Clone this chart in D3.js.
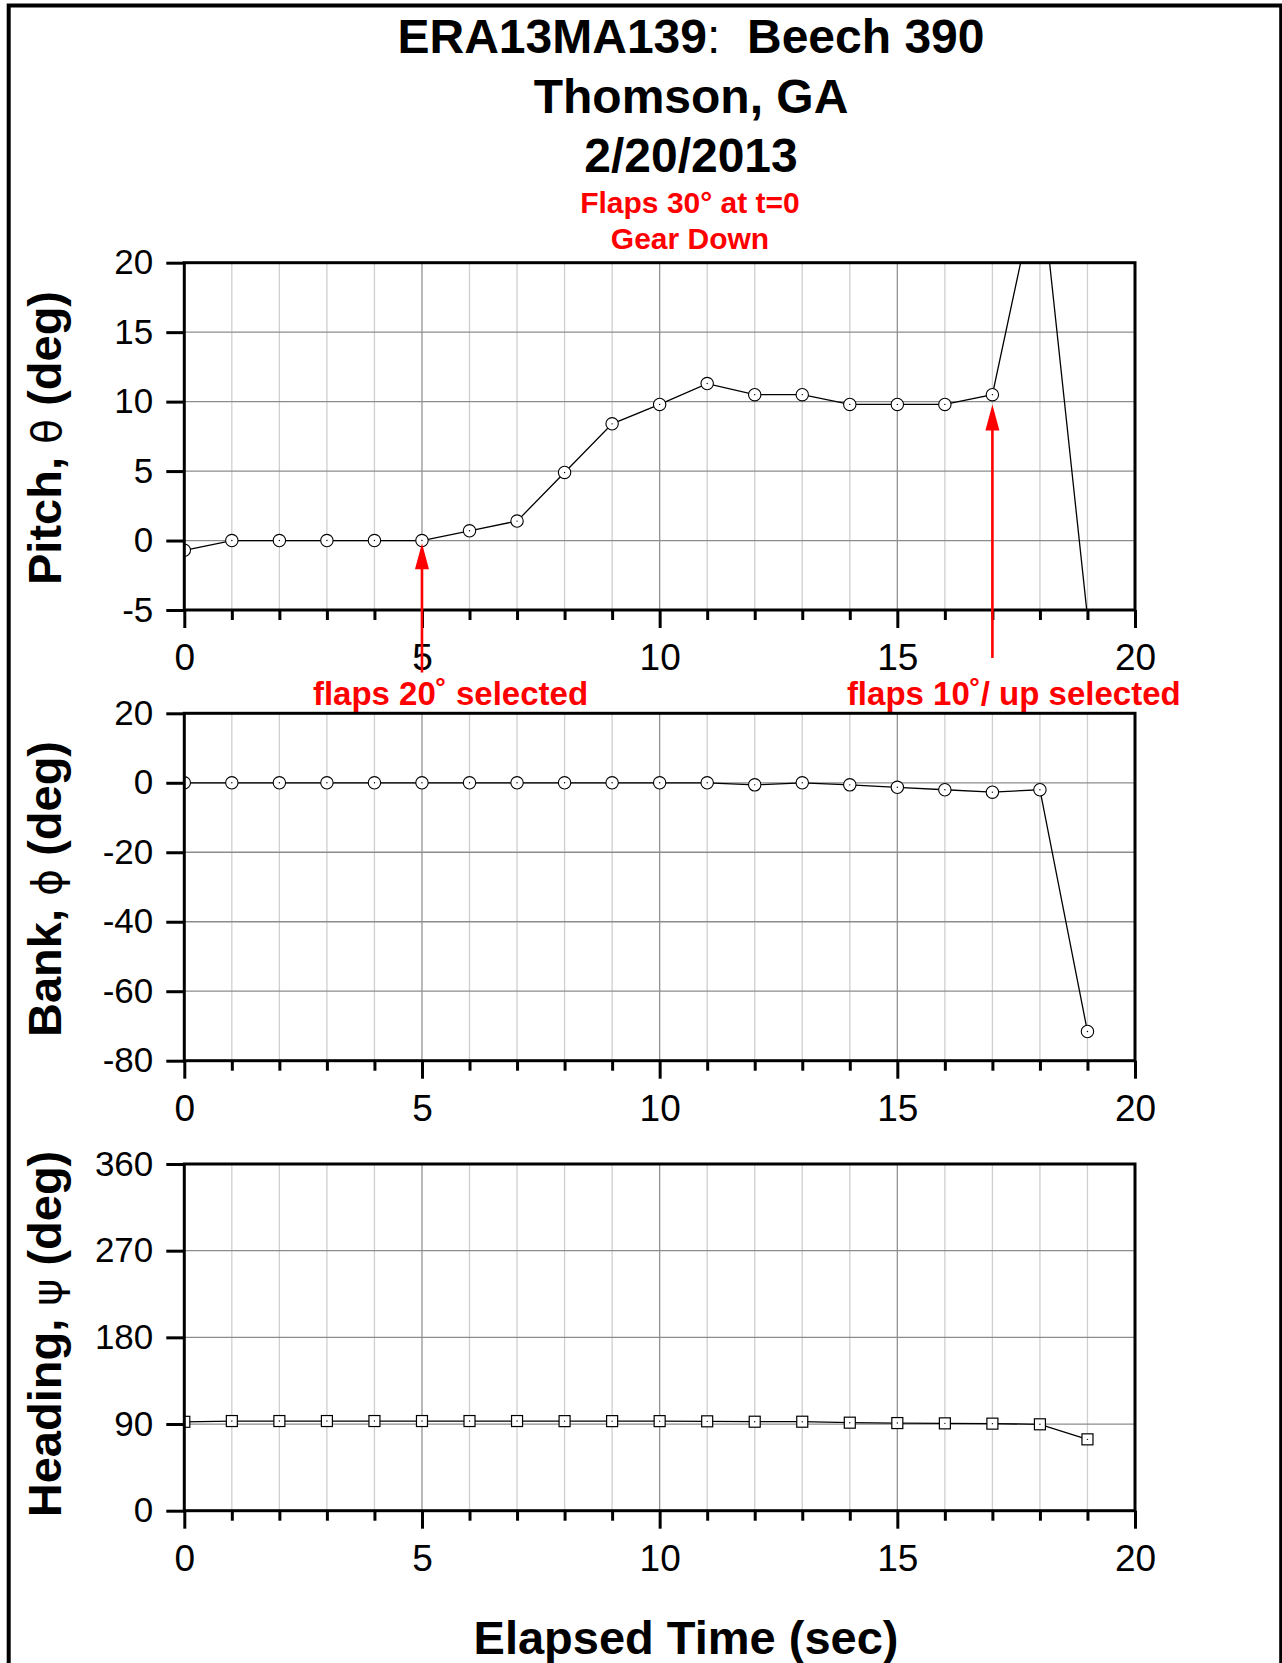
<!DOCTYPE html>
<html>
<head>
<meta charset="utf-8">
<script src="https://cdn.jsdelivr.net/npm/d3@7"></script>
<style>
body { margin: 0; background: #fff; }
text { font-family: "Liberation Sans", Arial, Helvetica, sans-serif; }
</style>
</head>
<body>
<script>
// Data (1 sample per second)
const time = [0, 1, 2, 3, 4, 5, 6, 7, 8, 9, 10, 11, 12, 13, 14, 15, 16, 17, 18, 19]
const pitch = [-0.7, 0, 0, 0, 0, 0, 0.7, 1.4, 4.9, 8.4, 9.8, 11.3, 10.5, 10.5, 9.8, 9.8, 9.8, 10.5, 26.5, -5.5]
const bank = [0, 0, 0, 0, 0, 0, 0, 0, 0, 0, 0, 0, -0.6, 0, -0.6, -1.3, -2, -2.7, -2, -71.6]
const heading = [92.3, 93.1, 93.1, 93.1, 93.1, 93.1, 93.1, 93.1, 93, 93, 93, 92.8, 92.4, 92.4, 91.4, 91, 90.7, 90.4, 89.7, 74.1]

// Tick labels
const xTicks = [0, 5, 10, 15, 20]
const pitchTicks = [-5, 0, 5, 10, 15, 20]
const bankTicks = [-80, -60, -40, -20, 0, 20]
const headingTicks = [0, 90, 180, 270, 360]

// Text
const titleLines = [['ERA13MA139', ':', '  Beech 390'], ['Thomson, GA'], ['2/20/2013']]
const noteLines = ['Flaps 30\u00b0 at t=0', 'Gear Down']
const xTitle = 'Elapsed Time (sec)'

// Flap annotations (time, arrow from / to in pitch degrees)
const flapTimes = [5, 17]
const flapFrom = [-9.5, -8.45]
const flapTo = [-0.2, 9.8]
const flapLabels = ['flaps 20\u02da selected', 'flaps 10\u02da/ up selected']
const flapLabelTimes = [5.6, 17.45]

const W = 1282, H = 1663
const left = 184.3, right = 1135

let svg = d3.select('body')
    .append('svg')
    .attr('width', W)
    .attr('height', H)

svg.append('rect')
    .attr('width', W).attr('height', H)
    .attr('fill', '#fff')

// outer frame
svg.append('rect')
    .attr('x', 8.7).attr('y', 5.5)
    .attr('width', 1272.5).attr('height', 1700)
    .attr('fill', 'none')
    .attr('stroke', '#000')
    .attr('stroke-width', 4)

// Titles
let titles = svg.append('g').selectAll('text')
    .data(titleLines)
    .enter()
    .append('text')
    .attr('x', 691)
    .attr('y', (d, i) => 53 + i * 59.5)
    .attr('text-anchor', 'middle')
    .attr('font-size', 48)
    .attr('font-weight', 'bold')
    .style('white-space', 'pre')
titles.selectAll('tspan')
    .data(d => d)
    .enter()
    .append('tspan')
    .attr('font-weight', d => d == ':' ? 'normal' : 'bold')
    .text(d => d)

svg.append('g').selectAll('text')
    .data(noteLines)
    .enter()
    .append('text')
    .attr('x', 690)
    .attr('y', (d, i) => 213 + i * 36)
    .attr('text-anchor', 'middle')
    .attr('font-size', 30)
    .attr('font-weight', 'bold')
    .attr('fill', '#ff0000')
    .text(d => d)

let x = d3.scaleLinear().domain([0, 20]).range([left, right])

const panels = [
    { id: 'pitch', values: pitch, ticks: pitchTicks, top: 262.7, bottom: 610, shape: 'circle',
      label: ['Pitch, ', '\u03b8', ' (deg)'], labelY: 438 },
    { id: 'bank', values: bank, ticks: bankTicks, top: 713.3, bottom: 1060.7, shape: 'circle',
      label: ['Bank, ', '\u03d5', ' (deg)'], labelY: 889 },
    { id: 'heading', values: heading, ticks: headingTicks, top: 1164, bottom: 1510.7, shape: 'square',
      label: ['Heading, ', '\u03c8', ' (deg)'], labelY: 1334 }
]

const minorX = time.filter(t => t > 0 && t % 5 != 0)
const majorX = xTicks.filter(t => t > 0 && t < 20)

panels.forEach(p => {
    let y = d3.scaleLinear()
        .domain([p.ticks[0], p.ticks[p.ticks.length - 1]])
        .range([p.bottom, p.top])
    let g = svg.append('g')

    g.append('clipPath').attr('id', 'clip-' + p.id)
        .append('rect')
        .attr('x', left).attr('y', p.top)
        .attr('width', right - left).attr('height', p.bottom - p.top)

    // grid
    g.selectAll('.minor')
        .data(minorX)
        .enter()
        .append('line')
        .attr('x1', d => x(d)).attr('x2', d => x(d))
        .attr('y1', p.top).attr('y2', p.bottom)
        .attr('stroke', '#cfcfcf')
        .attr('stroke-width', 1.3)
    g.selectAll('.majorx')
        .data(majorX)
        .enter()
        .append('line')
        .attr('x1', d => x(d)).attr('x2', d => x(d))
        .attr('y1', p.top).attr('y2', p.bottom)
        .attr('stroke', '#939393')
        .attr('stroke-width', 1.3)
    g.selectAll('.majory')
        .data(p.ticks.slice(1, -1))
        .enter()
        .append('line')
        .attr('x1', left).attr('x2', right)
        .attr('y1', d => y(d)).attr('y2', d => y(d))
        .attr('stroke', '#8c8c8c')
        .attr('stroke-width', 1.3)

    // series
    let plot = g.append('g').attr('clip-path', 'url(#clip-' + p.id + ')')
    let line = d3.line()
        .x((d, i) => x(time[i]))
        .y(d => y(d))
    plot.append('path')
        .datum(p.values)
        .attr('d', line)
        .attr('fill', 'none')
        .attr('stroke', '#000')
        .attr('stroke-width', 1.3)

    let pts = plot.selectAll('.pt')
        .data(p.values)
        .enter()
        .append('g')
        .attr('transform', (d, i) => 'translate(' + x(time[i]) + ',' + y(d) + ')')
    if (p.shape == 'circle') {
        pts.append('circle').attr('r', 6.2)
            .attr('fill', '#fff').attr('stroke', '#000').attr('stroke-width', 1.1)
    } else {
        pts.append('rect').attr('x', -5.5).attr('y', -5.5)
            .attr('width', 11).attr('height', 11)
            .attr('fill', '#fff').attr('stroke', '#000').attr('stroke-width', 1.2)
    }
    pts.append('circle').attr('r', 0.7).attr('fill', '#000')

    // frame
    g.append('rect')
        .attr('x', left).attr('y', p.top)
        .attr('width', right - left).attr('height', p.bottom - p.top)
        .attr('fill', 'none')
        .attr('stroke', '#000')
        .attr('stroke-width', 3)

    // axes
    let xa = g.append('g')
        .attr('transform', 'translate(0,' + p.bottom + ')')
        .call(d3.axisBottom(x).tickValues(xTicks).tickSize(18).tickPadding(16).tickFormat(d => String(d)))
    g.append('g')
        .attr('transform', 'translate(0,' + p.bottom + ')')
        .call(d3.axisBottom(x).tickValues(minorX).tickSize(10).tickFormat(''))
        .call(a => a.select('.domain').remove())
        .selectAll('line').attr('stroke-width', 3)
    let ya = g.append('g')
        .attr('transform', 'translate(' + left + ',0)')
        .call(d3.axisLeft(y).tickValues(p.ticks).tickSize(18).tickPadding(13).tickFormat(d => String(d)))
    ;[xa, ya].forEach(a => {
        a.select('.domain').remove()
        a.selectAll('line').attr('stroke-width', 3)
        a.selectAll('text')
            .attr('fill', '#000')
            .attr('font-family', '"Liberation Sans", Arial, sans-serif')
    })
    xa.selectAll('text').attr('font-size', 37)
    ya.selectAll('text').attr('font-size', 35)

    // y title
    let t = g.append('text')
        .attr('transform', 'translate(61,' + p.labelY + ') rotate(-90)')
        .attr('text-anchor', 'middle')
        .attr('font-size', 47)
        .attr('font-weight', 'bold')
        .style('white-space', 'pre')
    t.append('tspan').text(p.label[0])
    t.append('tspan').attr('font-weight', 'normal')
        .attr('font-family', '"DejaVu Sans", "Liberation Sans", sans-serif')
        .attr('font-size', 41)
        .text(p.label[1])
    t.append('tspan').text(p.label[2])

    // flap arrows on pitch
    if (p.id == 'pitch') {
        let ann = g.append('g')
        flapTimes.forEach((ft, i) => {
            let ax = x(ft), tip = y(flapTo[i])
            ann.append('line')
                .attr('x1', ax).attr('x2', ax)
                .attr('y1', y(flapFrom[i])).attr('y2', tip + 20)
                .attr('stroke', '#ff0000')
                .attr('stroke-width', 2.6)
            let ph = d3.path()
            ph.moveTo(ax, tip)
            ph.lineTo(ax - 7, tip + 26)
            ph.lineTo(ax + 7, tip + 26)
            ph.closePath()
            ann.append('path').attr('d', ph.toString()).attr('fill', '#ff0000')
            ann.append('text')
                .attr('x', x(flapLabelTimes[i]))
                .attr('y', 705)
                .attr('text-anchor', 'middle')
                .attr('font-size', 33)
                .attr('font-weight', 'bold')
                .attr('fill', '#ff0000')
                .text(flapLabels[i])
        })
    }
})

// x title
svg.append('text')
    .attr('x', 686)
    .attr('y', 1654)
    .attr('text-anchor', 'middle')
    .attr('font-size', 47)
    .attr('font-weight', 'bold')
    .text(xTitle)
</script>
</body>
</html>
